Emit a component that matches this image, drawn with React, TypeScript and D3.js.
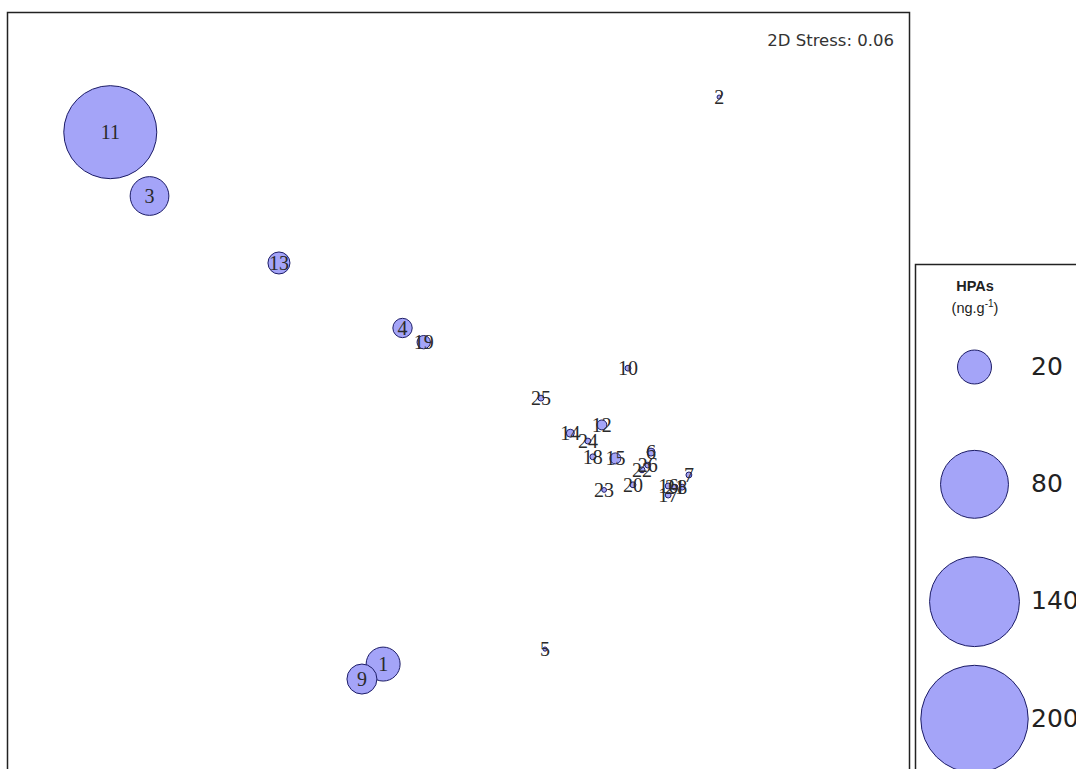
import React from "react";
import * as d3 from "d3";

// NMDS ordination of samples, bubbles scaled by HPA concentration (ng/g)
const samples = ["1","2","3","4","5","6","7","8","9","10","11","12","13","14","15","16","17","18","19","20","21","22","23","24","25","26"];
const nmds1 = [-0.166, 0.579, -0.684, -0.123, 0.193, 0.428, 0.512, 0.497, -0.213, 0.377, -0.771, 0.319, -0.397, 0.249, 0.349, 0.466, 0.466, 0.299, -0.076, 0.388, 0.481, 0.408, 0.324, 0.288, 0.184, 0.421];
const nmds2 = [-0.655, 0.784, 0.533, 0.198, -0.617, -0.117, -0.175, -0.206, -0.693, 0.096, 0.695, -0.048, 0.363, -0.069, -0.133, -0.203, -0.226, -0.129, 0.162, -0.2, -0.206, -0.162, -0.213, -0.089, 0.02, -0.15];
const hpas = [20, 0.3, 26, 6.5, 0.3, 1.1, 0.6, 0.6, 15.6, 0.6, 150, 1.7, 8.4, 1.1, 2.1, 0.6, 0.6, 0.6, 3.1, 0.6, 0.6, 0.6, 0.4, 0.6, 0.6, 0.6];
const legendValues = [20, 80, 140, 200];
const stressLabel = "2D Stress: 0.06";

const W = 1076;
const H = 769;
const frame = { left: 7.5, top: 12.5, right: 909.5, bottom: 800 };
const legendBox = { left: 915.5, top: 264.5 };

const FILL = "#a4a4f8";
const STROKE = "#1c1c66";
const SANS = "'DejaVu Sans', Verdana, sans-serif";

export default function App() {
  const x = d3.scaleLinear().domain([-1, 1]).range([7, 909]);
  const y = d3.scaleLinear().domain([-1, 1]).range([800, 12]);
  const r = d3.scaleSqrt().domain([0, 200]).range([0, 53.7]);

  const pts = samples.map((s, i) => ({ s, x: x(nmds1[i]), y: y(nmds2[i]), v: hpas[i] }));
  const byArea = [...pts].sort((a, b) => b.v - a.v);

  const legendY = d3.scalePoint<number>().domain(legendValues).range([366, 718]);

  return (
    <svg width={W} height={H} style={{ position: "absolute", left: 0, top: 0, background: "#fff" }}>
      <defs>
        <clipPath id="plotClip">
          <rect x={frame.left} y={frame.top} width={frame.right - frame.left} height={frame.bottom - frame.top} />
        </clipPath>
      </defs>
      <rect x={frame.left} y={frame.top} width={frame.right - frame.left} height={frame.bottom - frame.top}
        fill="#fff" stroke="#222" strokeWidth={1.5} />
      <g clipPath="url(#plotClip)">
        {byArea.map((p) => (
          <circle key={"c" + p.s} cx={p.x} cy={p.y} r={Math.max(r(p.v), 1.5)} fill={FILL} stroke={STROKE} strokeWidth={1} />
        ))}
        {pts.map((p) => (
          <text key={"t" + p.s} x={p.x} y={p.y} textAnchor="middle" dominantBaseline="central"
            fontFamily="'Liberation Serif', 'DejaVu Serif', serif" fontSize={20} fill="#2a2a2a">
            {p.s}
          </text>
        ))}
      </g>
      <text x={894} y={46} textAnchor="end" fontFamily={SANS} fontSize={16.5} fill="#333">
        {stressLabel}
      </text>

      {/* legend */}
      <rect x={legendBox.left} y={legendBox.top} width={W - legendBox.left + 20} height={H - legendBox.top + 20}
        fill="#fff" stroke="#222" strokeWidth={1.5} />
      <text x={975} y={291} textAnchor="middle" fontFamily="'Liberation Sans', Arial, sans-serif" fontSize={14.5} fontWeight="bold" fill="#222">
        HPAs
      </text>
      <text x={975} y={313} textAnchor="middle" fontFamily="'Liberation Sans', Arial, sans-serif" fontSize={14.5} fill="#222">
        (ng.g<tspan dy={-6} fontSize={10}>-1</tspan><tspan dy={6}>)</tspan>
      </text>
      {legendValues.map((v) => (
        <g key={"l" + v}>
          <circle cx={974.5} cy={legendY(v)! + 1} r={r(v)} fill={FILL} stroke={STROKE} strokeWidth={1} />
          <text x={1031} y={legendY(v)!} dominantBaseline="central" fontFamily={SANS} fontSize={25} fill="#222">
            {v}
          </text>
        </g>
      ))}
    </svg>
  );
}
